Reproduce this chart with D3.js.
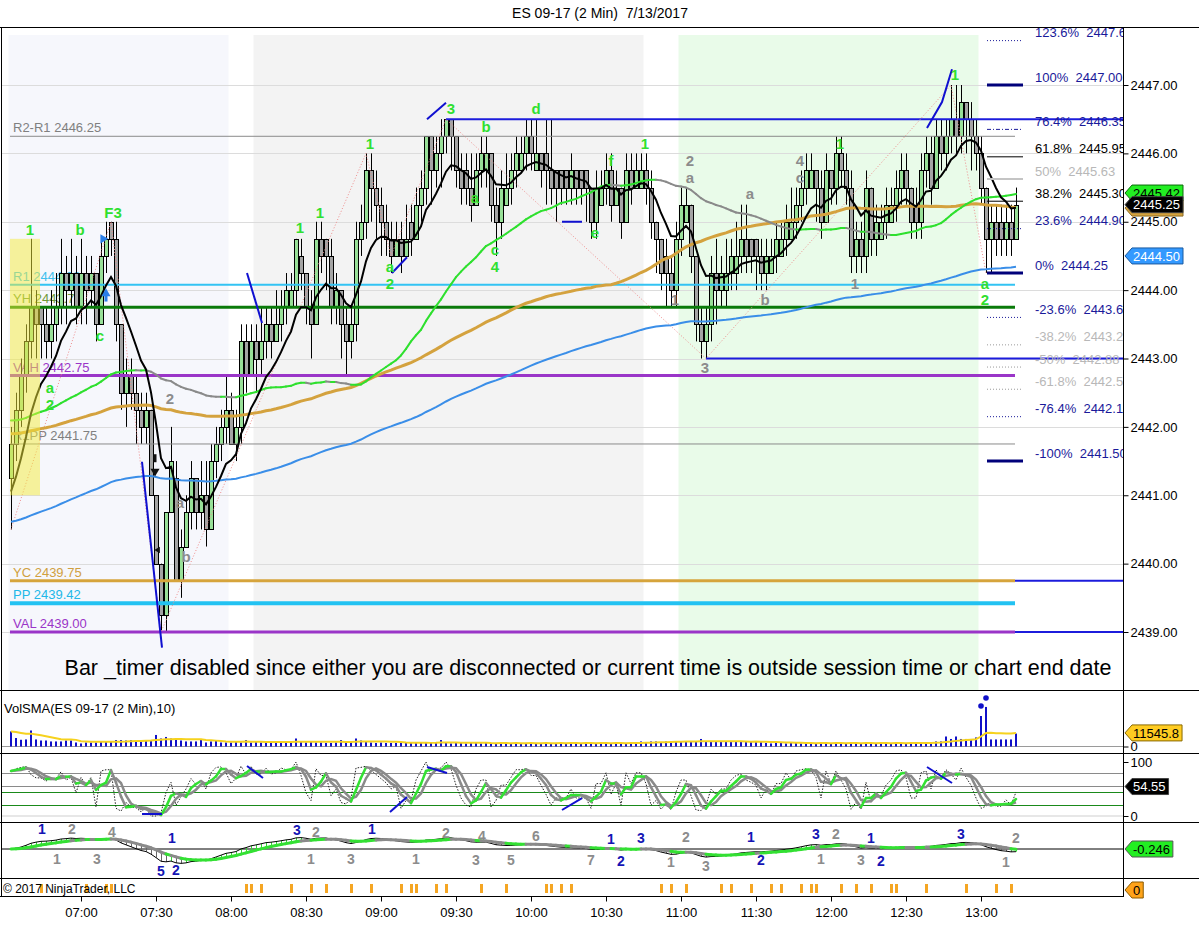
<!DOCTYPE html>
<html><head><meta charset="utf-8">
<script src="https://cdn.jsdelivr.net/npm/d3@7/dist/d3.min.js"></script>
<style>
html,body{margin:0;padding:0;background:#fff;}
svg{display:block;}
text{font-family:"Liberation Sans",Arial,Helvetica,sans-serif;}
</style></head><body>
<svg id="chart" width="1199" height="952"></svg>
<script>
// ================= DATA =================
const chartTitle = "ES 09-17 (2 Min)  7/13/2017";
const firstBar = "06:32";          // 2-minute bars
const opens = [
2441.25,2441.75,2442.25,2442.75,2443.25,2443.75,2443.75,2443.5,2443.25,2443.5,
2443.75,2444.25,2444.0,2444.25,2443.75,2444.25,2444.0,2444.25,2443.5,2444.5,
2445.0,2444.75,2443.5,2442.5,2442.75,2442.5,2442.25,2442.0,2442.25,2441.0,
2440.0,2439.25,2440.75,2441.25,2439.75,2440.25,2440.75,2441.25,2440.75,2441.0,
2440.5,2441.5,2441.75,2442.0,2442.25,2441.75,2442.0,2443.25,2442.75,2443.25,
2443.0,2443.25,2443.5,2443.25,2443.5,2443.75,2443.75,2444.0,2444.5,2444.25,
2443.75,2443.5,2444.75,2444.75,2444.5,2443.75,2444.0,2443.5,2443.25,2443.5,
2444.75,2445.0,2445.75,2445.5,2445.25,2445.0,2444.75,2444.5,2444.75,2444.5,
2445.0,2444.75,2445.25,2445.5,2446.25,2445.75,2446.0,2446.25,2446.5,2446.25,
2445.75,2445.75,2445.5,2445.25,2445.75,2445.75,2446.0,2445.25,2445.0,2445.25,
2445.5,2445.75,2445.75,2446.0,2446.25,2445.75,2446.0,2446.0,2445.75,2445.75,
2445.75,2445.75,2445.5,2445.75,2445.75,2445.75,2445.5,2445.0,2445.25,2445.5,
2445.75,2445.25,2445.5,2445.0,2445.75,2445.5,2445.5,2445.75,2445.5,2445.0,
2444.75,2444.5,2444.25,2444.0,2444.75,2445.0,2445.25,2444.5,2443.5,2443.25,
2443.5,2444.25,2444.0,2444.0,2444.25,2444.25,2444.5,2444.75,2444.75,2444.75,
2444.5,2444.25,2444.25,2444.5,2444.5,2444.75,2444.75,2445.0,2445.25,2445.5,
2445.5,2445.75,2445.5,2445.0,2445.75,2445.5,2446.0,2445.75,2445.5,2444.5,
2444.75,2444.5,2445.5,2444.75,2444.75,2445.0,2445.0,2445.25,2445.5,2445.75,
2445.5,2445.25,2445.0,2445.75,2446.0,2445.5,2446.25,2446.0,2446.25,2446.5,
2446.25,2446.75,2446.5,2446.25,2446.0,2445.5,2444.75,2445.0,2445.0,2444.75,
2445.0,2444.75];
const highs = [
2442.0,2442.5,2443.0,2443.5,2444.75,2444.0,2443.75,2443.75,2444.0,2444.25,
2444.75,2444.5,2444.75,2444.5,2444.75,2444.5,2444.5,2444.25,2444.75,2445.0,
2445.0,2445.0,2443.5,2443.0,2443.0,2442.75,2442.5,2442.5,2442.25,2441.0,
2440.0,2440.75,2442.0,2441.5,2440.5,2441.0,2441.5,2441.25,2441.5,2441.5,
2441.75,2442.0,2442.25,2442.75,2442.5,2442.25,2443.5,2443.5,2443.5,2443.5,
2443.75,2443.75,2443.75,2444.0,2444.0,2444.25,2444.25,2444.75,2444.75,2444.25,
2444.0,2445.0,2445.0,2444.75,2444.75,2444.25,2444.0,2443.75,2443.75,2445.0,
2445.25,2446.0,2446.0,2445.75,2445.5,2445.25,2445.0,2445.0,2445.0,2445.25,
2445.25,2445.5,2445.75,2446.25,2446.25,2446.25,2446.5,2446.5,2446.5,2446.25,
2446.0,2446.0,2446.0,2446.0,2446.25,2446.25,2446.0,2445.5,2445.75,2446.0,
2446.0,2446.25,2446.25,2446.5,2446.5,2446.5,2446.0,2446.5,2446.5,2445.75,
2445.75,2445.75,2446.0,2445.75,2445.75,2445.75,2445.5,2445.75,2445.75,2446.0,
2446.0,2445.75,2445.5,2446.0,2446.0,2446.0,2446.0,2446.0,2445.75,2445.0,
2444.75,2444.75,2444.5,2445.0,2445.5,2445.5,2445.25,2444.5,2443.75,2443.75,
2444.5,2444.75,2444.5,2444.75,2444.75,2445.0,2445.25,2445.25,2444.75,2444.75,
2444.75,2444.75,2444.75,2445.0,2445.0,2445.25,2445.5,2445.5,2445.75,2446.0,
2446.0,2445.75,2445.75,2446.0,2445.75,2446.25,2446.25,2446.0,2445.75,2445.0,
2445.0,2445.75,2445.5,2445.25,2445.25,2445.5,2445.5,2445.75,2446.0,2446.0,
2445.5,2445.5,2446.0,2446.25,2446.25,2446.5,2446.5,2446.5,2447.0,2447.0,
2447.0,2446.75,2446.75,2446.5,2446.25,2445.5,2445.25,2445.25,2445.25,2445.25,
2445.25,2445.5];
const lows = [
2440.5,2441.5,2442.0,2442.5,2443.0,2443.0,2443.0,2443.0,2443.0,2443.25,
2443.5,2443.5,2443.75,2443.5,2443.5,2443.5,2443.75,2443.25,2443.5,2444.25,
2444.5,2443.25,2442.25,2442.0,2442.25,2441.75,2441.75,2441.75,2441.0,2440.0,
2439.0,2439.0,2440.75,2439.75,2439.5,2440.25,2440.5,2440.5,2440.5,2440.25,
2440.5,2441.25,2441.5,2441.75,2441.75,2441.5,2441.75,2442.5,2442.75,2442.5,
2442.75,2443.0,2443.0,2443.25,2443.25,2443.5,2443.75,2443.75,2444.0,2443.5,
2443.0,2443.5,2444.25,2444.0,2443.5,2443.5,2443.0,2442.75,2443.0,2443.25,
2444.5,2444.75,2445.0,2444.75,2444.5,2444.5,2444.25,2444.5,2444.25,2444.5,
2444.5,2444.75,2445.0,2445.25,2445.25,2445.5,2445.5,2446.0,2445.75,2445.5,
2445.25,2445.25,2445.0,2445.25,2445.5,2445.5,2445.0,2444.5,2444.75,2445.25,
2445.25,2445.5,2445.75,2445.75,2445.75,2445.75,2445.5,2445.25,2445.25,2445.0,
2445.25,2445.25,2445.25,2445.25,2445.25,2445.0,2444.75,2444.75,2445.25,2445.25,
2445.0,2445.25,2444.75,2445.0,2445.25,2445.5,2445.5,2445.25,2444.75,2444.25,
2444.0,2443.75,2443.75,2443.75,2444.5,2445.0,2444.25,2443.25,2443.0,2443.0,
2443.25,2443.5,2443.75,2443.75,2444.0,2444.0,2444.25,2444.25,2444.25,2444.0,
2444.0,2444.0,2444.25,2444.25,2444.5,2444.5,2444.75,2444.75,2445.0,2445.25,
2445.5,2445.0,2444.75,2445.0,2445.25,2445.25,2445.5,2445.25,2444.25,2444.25,
2444.25,2444.25,2444.5,2444.5,2444.75,2444.75,2445.0,2445.0,2445.25,2445.25,
2444.75,2444.75,2444.75,2445.5,2445.25,2445.5,2445.75,2445.75,2446.0,2446.0,
2446.0,2446.0,2445.75,2445.75,2445.25,2444.25,2444.25,2444.5,2444.5,2444.5,
2444.5,2444.75];
const closes = [
2441.75,2442.25,2442.75,2443.25,2443.75,2443.5,2443.5,2443.25,2443.5,2443.75,
2444.25,2444.0,2444.25,2443.75,2444.25,2444.0,2444.25,2443.5,2444.5,2444.75,
2444.75,2443.5,2442.5,2442.75,2442.5,2442.25,2442.0,2442.25,2441.0,2440.0,
2439.25,2440.75,2441.5,2439.75,2440.25,2440.75,2441.25,2440.75,2441.0,2440.5,
2441.5,2441.75,2442.0,2442.25,2441.75,2442.0,2443.25,2442.75,2443.25,2443.0,
2443.25,2443.5,2443.25,2443.5,2443.75,2444.0,2444.0,2444.75,2444.25,2443.75,
2443.5,2444.75,2444.5,2444.5,2443.75,2444.0,2443.5,2443.25,2443.5,2444.75,
2445.0,2445.75,2445.5,2445.25,2445.0,2444.75,2444.5,2444.75,2444.5,2444.75,
2444.75,2445.25,2445.5,2446.25,2445.75,2446.0,2446.25,2446.5,2446.25,2445.75,
2445.5,2445.5,2445.25,2445.75,2446.0,2446.0,2445.25,2445.0,2445.5,2445.5,
2445.75,2446.0,2446.0,2446.25,2446.0,2446.0,2445.75,2445.75,2445.5,2445.5,
2445.5,2445.5,2445.75,2445.5,2445.5,2445.5,2445.0,2445.5,2445.5,2445.75,
2445.25,2445.5,2445.0,2445.75,2445.5,2445.75,2445.75,2445.5,2445.0,2444.75,
2444.25,2444.25,2444.0,2444.75,2445.25,2445.25,2444.5,2443.5,2443.25,2443.5,
2444.25,2444.0,2444.25,2444.25,2444.5,2444.5,2444.75,2444.5,2444.5,2444.5,
2444.25,2444.5,2444.5,2444.75,2444.75,2445.0,2445.0,2445.25,2445.5,2445.75,
2445.75,2445.5,2445.0,2445.75,2445.5,2446.0,2445.75,2445.5,2444.5,2444.75,
2444.5,2445.5,2444.75,2445.0,2445.0,2445.25,2445.25,2445.5,2445.75,2445.5,
2445.0,2445.0,2445.75,2446.0,2445.5,2446.25,2446.0,2446.25,2446.5,2446.25,
2446.75,2446.5,2446.25,2446.0,2445.5,2444.75,2445.0,2444.75,2444.75,2445.0,
2444.75,2445.25];
const volumes = [
12800,7200,5700,6000,13600,6000,5100,5100,4300,4300,
4300,5100,5100,3400,2600,3400,3400,3400,4300,4300,
4300,5500,5500,5100,5500,5100,4300,5500,5100,9800,
6800,8100,6800,6800,5100,4300,4300,4300,5500,3400,
4300,5100,3400,3400,3400,4300,3400,5500,3400,4300,
3400,3400,4300,3400,3400,3400,4300,6800,4300,3400,
4300,3400,3400,3000,3000,3400,5500,4300,4300,6800,
5100,4300,3400,3000,3400,3000,3000,3000,3000,3000,
3400,3400,3000,3000,3000,3400,5500,3000,2600,3000,
3000,2600,3000,3000,2600,3000,3000,2600,3000,3000,
2600,3000,2600,3000,3000,2600,3000,3000,2600,3000,
3000,2600,3000,3000,2600,3000,3000,2600,3000,3000,
2600,3000,3000,2600,3000,3000,4300,3800,4300,4300,
3800,4300,4300,4300,3800,4300,4300,4300,6400,3800,
4300,3800,4300,4300,3800,4300,4300,3800,4300,4300,
3800,3000,2600,3000,3000,2600,3000,3000,2600,3000,
3000,2600,3000,3000,2600,3000,3000,2600,3000,3000,
2600,3000,3000,2600,3000,3000,2600,3000,3000,2600,
3000,3000,3000,3400,3400,4300,4300,8500,6400,8500,
6400,6400,6400,7700,25900,33600,6000,6000,6000,6000,
6000,11000];
const volumeDots = [[194, 34400], [195, 41200]];

const priceTicks = [2439,2440,2441,2442,2443,2444,2445,2446,2447];
const timeTicks = ["07:00","07:30","08:00","08:30","09:00","09:30","10:00","10:30","11:00","11:30","12:00","12:30","13:00"];

const sessionStarts = ["06:31","08:09","10:59"];
const sessionEnds   = ["07:59","10:45","12:59"];

const levelNames  = ["R2-R1","R1","YH","VAH","R1PP","YC","PP","VAL"];
const levelValues = [2446.25,2444.08,2443.75,2442.75,2441.75,2439.75,2439.42,2439.00];

const swingHigh = 2447.00, swingLow = 2444.25;
const fibRatios = [1.236,1,0.764,0.618,0.5,0.382,0.236,0,-0.236,-0.382,-0.5,-0.618,-0.764,-1];

const blueLevelPrices = [2446.5, 2443.0, 2439.75, 2439.0];
const blueLevelStartBars = [87, 139, 200.8, 200.8];

const zigzag = [[0,2440.5],[20,2445.0],[30,2439.0],[71,2446.0],[76,2444.5],[87,2446.5],[139,2443.0],[188,2447.0],[195,2444.25]];
const blueTrendLines = [
  [[26.2,2441.49],[30.2,2438.77]],
  [[47.2,2444.25],[50.2,2443.52]],
  [[76.2,2444.25],[79.2,2444.48]],
  [[83.2,2446.5],[87.0,2446.74]],
  [[110.2,2445.0],[114.2,2445.0]],
  [[183.2,2446.37],[186.2,2446.75],[188.2,2447.23]]
];
const openingRange = {fromBar:-0.2, toBar:5.8, high:2444.75, low:2441.0};

const greenWaveLabels = [
 ["1",3.8,2444.88],["b",13.8,2444.88],["F3",20.4,2445.14],["c",17.8,2443.34],["a",7.8,2442.58],["2",7.8,2442.33],
 ["1",57.8,2444.91],["1",61.8,2445.14],["1",71.8,2446.15],["a",75.8,2444.34],["2",75.8,2444.09],
 ["3",88,2446.66],["b",95,2446.39],["d",105,2446.66],["a",92.8,2445.35],["c",96.8,2444.6],["4",96.8,2444.35],
 ["e",116.8,2444.84],["f",120,2445.9],["1",126.8,2446.15],["1",165.8,2446.15],["1",188.8,2447.15],
 ["a",194.8,2444.1],["2",194.8,2443.86]];
const grayWaveLabels = [
 ["2",31.8,2442.41],["a",33.8,2440.89],["b",35,2440.1],["2",135.8,2445.9],["a",135.8,2445.64],
 ["1",132.8,2443.86],["3",138.8,2442.86],["a",147.8,2445.41],["b",150.8,2443.86],
 ["4",157.8,2445.9],["c",157.8,2445.64],["1",168.8,2444.1]];

const priceFlagValues = [2445.42, 2445.20, 2445.25, 2444.50];
const priceFlagTexts  = ["2445.42", "", "2445.25", "2444.50"];
const volumeFlag = 11545.8, stochFlag = 54.55, macdFlag = -0.246;

const stochLevels = [80, 55, 45, 20];
const stochBlueLines = [[[26.2,3.7],[30.2,3.7]],[[47.2,92.6],[50.4,70.4]],[[75.8,7.4],[79.2,35.2]],
  [[83.2,90.7],[87.2,79.6]],[[110.2,11.1],[114.2,33.3]],[[183.2,90.7],[188.2,61.1]]];

const macdBlueLabels = [["1",6.2,1.11],["1",32.2,0.62],["5",30,-1.22],["2",33,-1.16],["3",57.2,1.07],["1",72.2,1.11],
 ["1",120,0.56],["2",122,-0.67],["3",126,0.62],["1",148,0.67],["2",150,-0.62],["3",161,0.84],["1",172,0.62],["2",174,-0.67],["3",190,0.84]];
const macdGrayLabels = [["2",12.2,1.11],["4",20.2,0.93],["1",9.2,-0.56],["3",17.2,-0.56],["2",61,0.93],["1",60,-0.56],
 ["3",68,-0.56],["1",81,-0.56],["2",87,0.89],["4",94.2,0.71],["3",93,-0.62],["5",100,-0.62],["6",105,0.71],["7",116,-0.62],
 ["2",135,0.67],["1",132,-0.71],["3",139,-0.93],["2",165,0.84],["1",162,-0.56],["3",170,-0.62],["2",201,0.62],["1",199,-0.71]];

const signalBars = [6,15,19,20,47,48,50,56,60,63,68,72,78,80,81,85,87,94,99,107,108,110,112,130,132,135,142,144,148,152,154,158,160,161,166,169,172,176,177,183,191,197,200];

const timerText = "Bar _timer disabled since either you are disconnected or current time is outside session time or chart end date";
const volLabel = "VolSMA(ES 09-17 (2 Min),10)";
const copyright = "\u00a9 2017 NinjaTrader, LLC";

// ================= LAYOUT / SCALES =================
const n = Math.min(opens.length, highs.length, lows.length, closes.length);
const svg = d3.select("#chart");
const hm = s => { const [h,m] = s.split(":").map(Number); return new Date(2017,6,13,h,m); };
const T0 = hm(firstBar).getTime();
const tAt = i => new Date(T0 + i*120000);
const x = d3.scaleTime().domain([hm("07:00"), hm("13:00")]).range([81, 981]);
const xb = i => x(tAt(i));
const RIGHT = 1123;
const yP = d3.scaleLinear().domain([2439, 2447]).range([632, 85]);
const yV = d3.scaleLinear().domain([0, 48000]).range([746.5, 690]);
const yS = d3.scaleLinear().domain([0, 100]).range([816, 762]);
const yM = d3.scaleLinear().domain([-1.55, 1.55]).range([877, 821]);

const defs = svg.append("defs");
function clip(id, x0, y0, x1, y1){ defs.append("clipPath").attr("id", id).append("rect").attr("x",x0).attr("y",y0).attr("width",x1-x0).attr("height",y1-y0); }
clip("cMain", 2, 28, RIGHT, 690);
clip("cVol", 2, 691, RIGHT, 753);
clip("cSt", 2, 754, RIGHT, 822);
clip("cMd", 2, 823, RIGHT, 878);

// ================= indicators =================
function ema(arr, p, seed){ const a = 2/(p+1); let e = seed; return arr.map(v => (e = e + a*(v - e))); }
function sma(arr, p, seed){ return arr.map((_,i)=>{ let s=0; for(let k=i-p+1;k<=i;k++) s += (k<0 ? (seed===undefined?arr[0]:seed) : arr[k]); return s/p; }); }
function smaTrunc(arr, p){ return arr.map((_,i)=>{ const a = arr.slice(Math.max(0,i-p+1), i+1); return d3.mean(a); }); }
const C = closes.slice(0,n);
const emaFast = ema(C, 10, 2440.9);
const sma50 = sma(C, 50, 2442.1);
const sma100 = sma(C, 100, 2441.9);
const emaSlow = ema(C, 200, 2440.6);

// ================= MAIN PANEL =================
const gMain = svg.append("g").attr("clip-path","url(#cMain)");
const shadeColors = ["#f6f7fc","#f3f3f3","#e9fbe9"];
sessionStarts.forEach((s,i)=>{
  gMain.append("rect").attr("x",x(hm(s))).attr("y",35).attr("width",x(hm(sessionEnds[i]))-x(hm(s))).attr("height",690-35).attr("fill",shadeColors[i]);
});
gMain.selectAll(".grid").data(priceTicks).enter().append("line")
  .attr("x1",2).attr("x2",RIGHT).attr("y1",d=>Math.round(yP(d))+0.5).attr("y2",d=>Math.round(yP(d))+0.5)
  .attr("stroke","#dcdcdc").attr("stroke-width",1);

const levelStyle = {
  "R2-R1":{c:"#8a8a8a",w:1,t:"#808080"}, "R1":{c:"#33c3f3",w:2,t:"#40c0ee"}, "YH":{c:"#0a7a0a",w:3,t:"#6e9a3a"},
  "VAH":{c:"#9a35c8",w:3,t:"#9a35c8"}, "R1PP":{c:"#8a8a8a",w:1,t:"#808080"}, "YC":{c:"#d6a43c",w:3,t:"#d0a040"},
  "PP":{c:"#22c2f2",w:4,t:"#22b8e8"}, "VAL":{c:"#9a35c8",w:3,t:"#9a35c8"} };
levelNames.forEach((nm,i)=>{
  gMain.append("text").attr("x",13).attr("y",yP(levelValues[i])-4).attr("font-size",13)
    .attr("fill",levelStyle[nm].t).text(nm + " " + levelValues[i].toFixed(2));
});

const cg = gMain.append("g");
for(let i=0;i<n;i++){
  const o=opens[i], c=closes[i], hi=Math.max(highs[i],o,c), lo=Math.min(lows[i],o,c);
  const cx = Math.round(xb(i))+0.5;
  cg.append("line").attr("x1",cx).attr("x2",cx).attr("y1",yP(hi)).attr("y2",yP(lo)).attr("stroke","#000").attr("stroke-width",1);
  if (c === o){
    cg.append("line").attr("x1",cx-2).attr("x2",cx+2).attr("y1",Math.round(yP(c))+0.5).attr("y2",Math.round(yP(c))+0.5).attr("stroke","#000");
  } else {
    const top = Math.round(yP(Math.max(o,c)))+0.5, bot = Math.round(yP(Math.min(o,c)))+0.5;
    cg.append("rect").attr("x",cx-2).attr("y",top).attr("width",4).attr("height",bot-top)
      .attr("fill", c>o ? "#98e098" : "#a4a4a4").attr("stroke","#000").attr("stroke-width",1);
  }
}
levelNames.forEach((nm,i)=>{
  gMain.append("line").attr("x1",xb(-0.2)).attr("x2",xb(200.8)).attr("y1",yP(levelValues[i])).attr("y2",yP(levelValues[i]))
    .attr("stroke",levelStyle[nm].c).attr("stroke-width",levelStyle[nm].w);
});
blueLevelPrices.forEach((p,i)=>{
  gMain.append("line").attr("x1",xb(blueLevelStartBars[i])).attr("x2",RIGHT).attr("y1",yP(p)).attr("y2",yP(p))
    .attr("stroke","#1c1cdc").attr("stroke-width",2);
});
const navy="#1a1a9a", lgray="#b8b8b8";
const fibStyle = r => {
  if (r===1 || r===0 || r===-1) return {c:"#00007a",w:3,d:null,t:navy};
  if (r===0.618 || r===0.382) return {c:"#000",w:1,d:null,t:"#000"};
  if (r===0.5) return {c:"#c4c4c4",w:2,d:null,t:lgray};
  if (r===0.764) return {c:navy,w:1,d:"4,2,1,2",t:navy};
  if (r===-0.382 || r===-0.618 || r===-0.5) return {c:"#9a9a9a",w:1,d:"1,2",t:lgray};
  return {c:navy,w:1,d:"1,2",t:navy};
};
const gFib = svg.append("g").attr("clip-path","url(#cMain)");
fibRatios.forEach(r=>{
  const v = swingLow + r*(swingHigh-swingLow);
  const st = fibStyle(r);
  const ln = gFib.append("line").attr("x1",xb(195.2)).attr("x2",xb(202.4)).attr("y1",yP(v)).attr("y2",yP(v))
     .attr("stroke",st.c).attr("stroke-width",st.w);
  if (st.d) ln.attr("stroke-dasharray",st.d);
  const pct = (Math.round(r*1000)/10) + "%";
  gFib.append("text").attr("x",1035).attr("y",yP(v)-3.5).attr("font-size",13).attr("fill",st.t)
     .style("white-space","pre").text(pct + "  " + (Math.round(v*100)/100).toFixed(2));
});
const lineP = d3.line().x(d=>xb(d[0])).y(d=>yP(d[1]));
gMain.append("path").attr("d",lineP(zigzag)).attr("fill","none").attr("stroke","#ee8c8c").attr("stroke-width",1).attr("stroke-dasharray","1,2");
const maLine = arr => d3.line().x((d,i)=>xb(i)).y(d=>yP(d))(arr);
gMain.append("path").attr("d",maLine(emaSlow)).attr("fill","none").attr("stroke","#3a8ee8").attr("stroke-width",2);
gMain.append("path").attr("d",maLine(sma100)).attr("fill","none").attr("stroke","#d4a23e").attr("stroke-width",3);
for(let i=1;i<n;i++){
  gMain.append("line").attr("x1",xb(i-1)).attr("x2",xb(i)).attr("y1",yP(sma50[i-1])).attr("y2",yP(sma50[i]))
    .attr("stroke", sma50[i]>=sma50[i-1] ? "#2ee02e" : "#8a8a8a").attr("stroke-width",2).attr("stroke-linecap","round");
}
gMain.append("path").attr("d",maLine(emaFast)).attr("fill","none").attr("stroke","#000").attr("stroke-width",2);
blueTrendLines.forEach(pts=>{
  gMain.append("path").attr("d",lineP(pts)).attr("fill","none").attr("stroke","#1010d0").attr("stroke-width",2);
});
function waveLabels(arr, color){
  arr.forEach(([t,b,p])=>{
    gMain.append("text").attr("x",xb(b)).attr("y",yP(p)).attr("dy","0.36em").attr("text-anchor","middle")
      .attr("font-size",15).attr("font-weight","bold").attr("fill",color).text(t);
  });
}
waveLabels(greenWaveLabels, "#30e030");
waveLabels(grayWaveLabels, "#8c8c8c");
const sym = d3.symbol().type(d3.symbolTriangle).size(36);
gMain.append("path").attr("d",sym()).attr("transform",`translate(${xb(18.4)},${yP(2444.75)}) rotate(90)`).attr("fill","#2a7ee8");
gMain.append("path").attr("d",sym()).attr("transform",`translate(${xb(19)},${yP(2443.95)})`).attr("fill","#2a7ee8");
gMain.append("rect").attr("x",xb(19)-1.5).attr("y",yP(2443.95)).attr("width",3).attr("height",8).attr("fill","#2a7ee8");
gMain.append("path").attr("d",sym()).attr("transform",`translate(${xb(28.8)},${yP(2441.35)}) rotate(180)`).attr("fill","#111");
gMain.append("rect").attr("x",xb(28.8)-1.5).attr("y",yP(2441.6)).attr("width",3).attr("height",8).attr("fill","#111");
gMain.append("path").attr("d",d3.symbol().type(d3.symbolTriangle).size(18)()).attr("transform",`translate(${xb(29.4)},${yP(2440.2)}) rotate(-90)`).attr("fill","#111");
gMain.append("rect").attr("x",xb(openingRange.fromBar)).attr("y",yP(openingRange.high))
  .attr("width",xb(openingRange.toBar)-xb(openingRange.fromBar)).attr("height",yP(openingRange.low)-yP(openingRange.high))
  .attr("fill","#f4ec3a").attr("opacity",0.5);
svg.append("text").attr("x",588).attr("y",675).attr("text-anchor","middle").attr("font-size",21.5).attr("fill","#000").text(timerText);

// ================= VOLUME PANEL =================
const gVol = svg.append("g").attr("clip-path","url(#cVol)");
gVol.append("line").attr("x1",2).attr("x2",RIGHT).attr("y1",746.5).attr("y2",746.5).attr("stroke","#9a9a9a");
volumes.slice(0,n).forEach((v,i)=>{
  gVol.append("rect").attr("x",Math.round(xb(i))-1).attr("y",yV(v)).attr("width",2).attr("height",yV(0)-yV(v)).attr("fill","#1010c8");
});
const volSma = sma(volumes.slice(0,n), 10, volumes[0]);
gVol.append("path").attr("d",d3.line().x((d,i)=>xb(i)).y(d=>yV(d))(volSma)).attr("fill","none").attr("stroke","#f6d21e").attr("stroke-width",2);
volumeDots.forEach(([b,v])=> gVol.append("circle").attr("cx",xb(b)).attr("cy",yV(v)).attr("r",2.8).attr("fill","#1010c8"));
svg.append("text").attr("x",4).attr("y",713).attr("font-size",13).text(volLabel);

// ================= STOCHASTICS =================
const P = 9;
const rawK = C.map((c,i)=>{
  const lo = d3.min(lows.slice(Math.max(0,i-P+1), i+1)), hi = d3.max(highs.slice(Math.max(0,i-P+1), i+1));
  return hi===lo ? 50 : 100*(c-lo)/(hi-lo);
});
const K = smaTrunc(rawK, 3), D = smaTrunc(K, 3);
const gSt = svg.append("g").attr("clip-path","url(#cSt)");
gSt.append("line").attr("x1",2).attr("x2",RIGHT).attr("y1",yS(0)).attr("y2",yS(0)).attr("stroke","#cfcfcf");
stochLevels.forEach((lv,i)=>{
  gSt.append("line").attr("x1",2).attr("x2",RIGHT).attr("y1",Math.round(yS(lv))+0.5).attr("y2",Math.round(yS(lv))+0.5)
    .attr("stroke", i<2 ? "#8a8a8a" : "#1a8a1a").attr("stroke-width",1);
});
const stLine = arr => d3.line().x((d,i)=>xb(i)).y(d=>yS(d))(arr);
gSt.append("path").attr("d",stLine(rawK)).attr("fill","none").attr("stroke","#222").attr("stroke-width",1).attr("stroke-dasharray","1.5,1.5");
gSt.append("path").attr("d",stLine(D)).attr("fill","none").attr("stroke","#8a8a8a").attr("stroke-width",2.5);
for(let i=1;i<n;i++){
  gSt.append("line").attr("x1",xb(i-1)).attr("x2",xb(i)).attr("y1",yS(K[i-1])).attr("y2",yS(K[i]))
    .attr("stroke", K[i]>=K[i-1] ? "#33e033" : "#8a8a8a").attr("stroke-width",2.5).attr("stroke-linecap","round");
}
stochBlueLines.forEach(pts=>{
  gSt.append("path").attr("d",d3.line().x(d=>xb(d[0])).y(d=>yS(d[1]))(pts)).attr("fill","none").attr("stroke","#1010d0").attr("stroke-width",2);
});

// ================= MACD =================
const e12 = ema(C, 12, C[0]), e26 = ema(C, 26, C[0]);
const macd = e12.map((v,i)=>v-e26[i]);
const sig = ema(macd, 9, 0);
const gMd = svg.append("g").attr("clip-path","url(#cMd)");
gMd.append("line").attr("x1",2).attr("x2",RIGHT).attr("y1",yM(0)).attr("y2",yM(0)).attr("stroke","#000");
for(let i=0;i<n;i++){
  const up = i>0 && macd[i]>=macd[i-1];
  gMd.append("line").attr("x1",Math.round(xb(i))+0.5).attr("x2",Math.round(xb(i))+0.5).attr("y1",yM(macd[i])).attr("y2",yM(sig[i]))
    .attr("stroke", up ? "#33d933" : "#666").attr("stroke-width",1);
}
gMd.append("path").attr("d",d3.line().x((d,i)=>xb(i)).y(d=>yM(d))(macd)).attr("fill","none").attr("stroke","#000").attr("stroke-width",1);
for(let i=1;i<n;i++){
  gMd.append("line").attr("x1",xb(i-1)).attr("x2",xb(i)).attr("y1",yM(sig[i-1])).attr("y2",yM(sig[i]))
    .attr("stroke", macd[i]>=macd[i-1] ? "#33e033" : "#8a8a8a").attr("stroke-width",3).attr("stroke-linecap","round");
}
function mdLabels(arr, color){
  arr.forEach(([t,b,v])=>{
    gMd.append("text").attr("x",xb(b)).attr("y",yM(v)).attr("dy","0.36em").attr("text-anchor","middle")
      .attr("font-size",14).attr("font-weight","bold").attr("fill",color).text(t);
  });
}
mdLabels(macdGrayLabels, "#8c8c8c");
mdLabels(macdBlueLabels, "#1414b4");

// ================= SIGNAL STRIP =================
signalBars.forEach(b=>{
  svg.append("rect").attr("x",Math.round(xb(b))-1).attr("y",884).attr("width",3).attr("height",9).attr("fill","#f5a623");
});
svg.append("text").attr("x",3).attr("y",893).attr("font-size",12).text(copyright);

// ================= FRAME / AXES =================
const frame = svg.append("g").attr("stroke","#000").attr("stroke-width",1);
frame.append("line").attr("x1",0).attr("x2",1199).attr("y1",27.5).attr("y2",27.5);
[690.5,753.5,822.5,878.5].forEach(yy=> frame.append("line").attr("x1",0).attr("x2",1199).attr("y1",yy).attr("y2",yy));
frame.append("line").attr("x1",0).attr("x2",RIGHT).attr("y1",896.5).attr("y2",896.5);
frame.append("line").attr("x1",1.5).attr("x2",1.5).attr("y1",27).attr("y2",897);
frame.append("line").attr("x1",RIGHT+0.5).attr("x2",RIGHT+0.5).attr("y1",27).attr("y2",897);

svg.append("text").attr("x",600).attr("y",18).attr("text-anchor","middle").attr("font-size",14).style("white-space","pre").text(chartTitle);

const ax = svg.append("g").attr("transform",`translate(${RIGHT+0.5},0)`)
  .call(d3.axisRight(yP).tickValues(priceTicks).tickFormat(d3.format(".2f")).tickSize(5).tickPadding(2));
ax.select(".domain").remove();
ax.selectAll("text").attr("font-size",13).attr("fill","#000").style("font-family","'Liberation Sans',Arial,sans-serif");

const xa = svg.append("g").attr("transform","translate(0,896.5)")
  .call(d3.axisBottom(x).tickValues(timeTicks.map(hm)).tickFormat(d3.timeFormat("%H:%M")).tickSize(5).tickPadding(6));
xa.select(".domain").remove();
xa.selectAll("text").attr("font-size",13).attr("fill","#000").style("font-family","'Liberation Sans',Arial,sans-serif");

function smallAxis(scale, vals){
  const g = svg.append("g").attr("transform",`translate(${RIGHT+0.5},0)`)
    .call(d3.axisRight(scale).tickValues(vals).tickFormat(d3.format("d")).tickSize(5).tickPadding(2));
  g.select(".domain").remove();
  g.selectAll("text").attr("font-size",13).attr("fill","#000").style("font-family","'Liberation Sans',Arial,sans-serif");
}
smallAxis(yV, [0]);
smallAxis(yS, [0,100]);

function flag(yc, txt, fill, color, stroke){
  const g = svg.append("g");
  const t = g.append("text").attr("x",1133).attr("y",yc).attr("dy","0.36em").attr("font-size",13).attr("fill",color).text(txt);
  const w = txt ? t.node().getComputedTextLength() : 47;
  g.insert("path","text").attr("d",`M${RIGHT+2},${yc} L${RIGHT+9},${yc-8} L${1136+w},${yc-8} L${1136+w},${yc+8} L${RIGHT+9},${yc+8} Z`)
    .attr("fill",fill).attr("stroke",stroke).attr("stroke-width",1);
}
const pfFill = ["#22ee22","#d4a23e","#000","#3399ff"], pfText = ["#000","#000","#fff","#fff"], pfStroke=["#0a6a0a","#8a6a20","#444","#1a5aa0"];
priceFlagValues.forEach((v,i)=> flag(yP(v), priceFlagTexts[i], pfFill[i], pfText[i], pfStroke[i]));
flag(yV(volumeFlag), volumeFlag.toFixed(1), "#ffcc22", "#000", "#8a6a00");
flag(yS(stochFlag), stochFlag.toFixed(2), "#000", "#fff", "#444");
flag(yM(0), macdFlag.toFixed(3), "#22ee22", "#000", "#555");
flag(890, "0", "#ffa31a", "#000", "#8a5a00");
</script>
</body></html>
